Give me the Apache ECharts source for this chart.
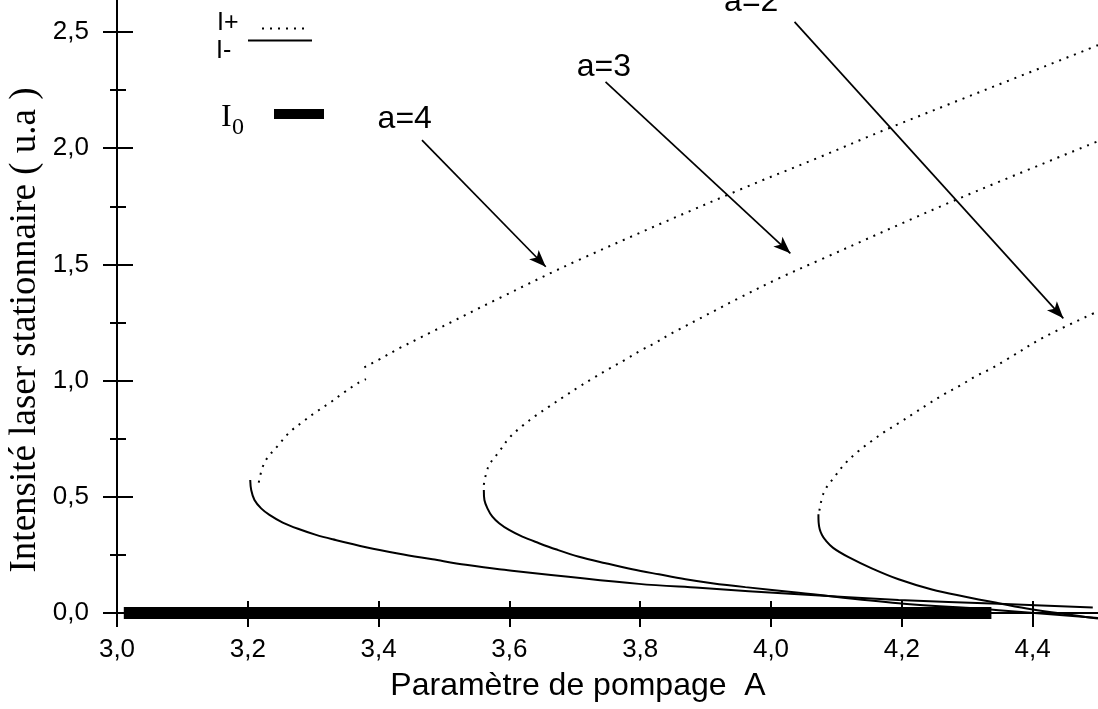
<!DOCTYPE html>
<html>
<head>
<meta charset="utf-8">
<script src="https://cdn.jsdelivr.net/npm/echarts@6/dist/echarts.min.js"></script>
<style>
  html, body { margin: 0; padding: 0; background: #fff; }
  #chart { width: 1098px; height: 709px; }
</style>
</head>
<body>
<div id="chart"></div>
<script>
// Axis ticks
const xMajorTicks = [3.0, 3.2, 3.4, 3.6, 3.8, 4.0, 4.2, 4.4];
const xMinorTicks = [3.1, 3.3, 3.5, 3.7, 3.9, 4.1, 4.3];
const yMajorTicks = [0, 0.5, 1.0, 1.5, 2.0, 2.5];
const yMinorTicks = [0.25, 0.75, 1.25, 1.75, 2.25];

// Upper branch I+ (dotted) for a = 4, 3, 2 ; '-' marks a break in the curve
const iPlusA4 = [[3.2168, 0.561], [3.2255, 0.647], [3.2469, 0.723], [3.2647, 0.780], [3.2824, 0.819],
  [3.3029, 0.862], [3.3258, 0.905], [3.3466, 0.948], [3.3679, 0.988], [3.3807, 1.006], [3.3795, '-'],
  [3.3782, 1.057], [3.4087, 1.103], [3.4316, 1.139], [3.4647, 1.186], [3.4774, 1.204], [3.584, 1.354],
  [3.706, 1.519], [3.951, 1.820], [4.073, 1.960], [4.180, 2.086], [4.482, 2.423], [4.5, 2.444]];
const iPlusA3 = [[3.5609, 0.551], [3.5679, 0.630], [3.5843, 0.694], [3.6006, 0.756], [3.6198, 0.805],
  [3.6403, 0.849], [3.6606, 0.888], [3.6835, 0.931], [3.7053, 0.971], [3.7278, 1.010], [3.7511, 1.049],
  [3.7766, 1.089], [3.8006, 1.129], [3.8235, 1.163], [3.8464, 1.201], [3.858, 1.218], [3.951, 1.355],
  [4.012, 1.440], [4.073, 1.517], [4.282, 1.777], [4.5, 2.030]];
const iPlusA2 = [[4.074, 0.44], [4.081, 0.52], [4.097, 0.585], [4.114, 0.645], [4.133, 0.695],
  [4.154, 0.74], [4.174, 0.78], [4.197, 0.82], [4.219, 0.86], [4.241, 0.90], [4.264, 0.94],
  [4.29, 0.98], [4.314, 1.02], [4.337, 1.052], [4.36, 1.09], [4.419, 1.189], [4.5, 1.298]];

// Lower branch I- (solid)
const iMinusA4 = [[3.2037, 0.572], [3.2052, 0.529], [3.2102, 0.486], [3.2204, 0.450], [3.2331, 0.422],
  [3.2534, 0.389], [3.2789, 0.360], [3.3043, 0.336], [3.3298, 0.317], [3.3807, 0.283], [3.4316, 0.255],
  [3.4824, 0.231], [3.5334, 0.207], [3.5843, 0.188], [3.798, 0.125], [3.890, 0.108], [4.042, 0.080],
  [4.195, 0.056], [4.348, 0.039], [4.492, 0.023]];
const iMinusA3 = [[3.5609, 0.529], [3.5618, 0.486], [3.5664, 0.450], [3.5740, 0.414], [3.5843, 0.386],
  [3.5995, 0.357], [3.6198, 0.328], [3.6453, 0.300], [3.6708, 0.274], [3.7064, 0.242], [3.7472, 0.214],
  [3.7878, 0.188], [3.8286, 0.166], [3.8693, 0.145], [3.9099, 0.128], [3.9609, 0.111], [4.0423, 0.087],
  [4.195, 0.042], [4.348, 0.012], [4.5, -0.022]];
const iMinusA2 = [[4.0725, 0.425], [4.0728, 0.39], [4.0745, 0.36], [4.078, 0.335], [4.083, 0.314],
  [4.095, 0.28], [4.1186, 0.240], [4.154, 0.192], [4.195, 0.145], [4.246, 0.101], [4.297, 0.070],
  [4.348, 0.042], [4.398, 0.016], [4.5, -0.024]];

// I0 = 0 solution
const iZero = [[3.0104, 0], [4.337, 0]];

// Curve annotations: label position and arrow (from, to)
const annotations = [
  { text: 'a=4', pos: [3.440, 2.126], from: [3.4663, 2.035], to: [3.6556, 1.490] },
  { text: 'a=3', pos: [3.7446, 2.349], from: [3.747, 2.286], to: [4.0296, 1.548] },
  { text: 'a=2', pos: [3.9698, 2.628], from: [4.036, 2.544], to: [4.447, 1.268] }
];

const SANS = 'Liberation Sans';
const comma = v => v.toFixed(1).replace('.', ',');

const X_MIN = 3.0, X_MAX = 4.5, Y_MIN = -0.052, Y_MAX = 2.638;

function xAxisDef(opts) {
  return Object.assign({
    type: 'value', min: X_MIN, max: X_MAX, position: 'bottom',
    splitLine: { show: false },
    axisLine: { show: false, onZero: true, onZeroAxisIndex: 0 },
    axisLabel: { show: false },
    axisTick: { show: false }
  }, opts);
}
function yAxisDef(opts) {
  return Object.assign({
    type: 'value', min: Y_MIN, max: Y_MAX, position: 'left',
    splitLine: { show: false },
    axisLine: { show: false, onZero: false },
    axisLabel: { show: false },
    axisTick: { show: false }
  }, opts);
}
const tickStyle = { color: '#000', width: 2 };

const dotted = { color: '#000', width: 2, type: [2, 6] };
const solid = { color: '#000', width: 2, type: 'solid' };
function curve(name, data, style) {
  return {
    name, type: 'line', data, showSymbol: false, symbol: 'none',
    smooth: 0.35, lineStyle: style, clip: true, silent: true, animation: false, z: 3
  };
}

const chart = echarts.init(document.getElementById('chart'), null, { renderer: 'canvas' });

chart.setOption({
  animation: false,
  backgroundColor: '#fff',
  grid: { left: 117, right: 0, top: 0, bottom: 84, containLabel: false },
  xAxis: [
    xAxisDef({
      axisLine: { show: true, onZero: true, onZeroAxisIndex: 0, lineStyle: { color: '#000', width: 2 } },
      axisTick: { show: true, customValues: xMajorTicks, length: 14, inside: false, lineStyle: tickStyle },
      axisLabel: { show: true, customValues: xMajorTicks, formatter: comma, margin: 12,
        fontFamily: SANS, fontSize: 26, color: '#000' }
    }),
    xAxisDef({ axisTick: { show: true, customValues: xMajorTicks, length: 12, inside: true, lineStyle: tickStyle } }),
    xAxisDef({ axisTick: { show: true, customValues: xMinorTicks, length: 6, inside: false, lineStyle: tickStyle } }),
    xAxisDef({ axisTick: { show: true, customValues: xMinorTicks, length: 6, inside: true, lineStyle: tickStyle } })
  ],
  yAxis: [
    yAxisDef({
      axisLine: { show: true, onZero: false, lineStyle: { color: '#000', width: 2 } },
      axisTick: { show: true, customValues: yMajorTicks, length: 14, inside: false, lineStyle: tickStyle },
      axisLabel: { show: true, customValues: yMajorTicks, formatter: comma, margin: 28,
        fontFamily: SANS, fontSize: 26, color: '#000' }
    }),
    yAxisDef({ axisTick: { show: true, customValues: yMajorTicks, length: 16, inside: true, lineStyle: tickStyle } }),
    yAxisDef({ axisTick: { show: true, customValues: yMinorTicks, length: 7, inside: false, lineStyle: tickStyle } }),
    yAxisDef({ axisTick: { show: true, customValues: yMinorTicks, length: 9, inside: true, lineStyle: tickStyle } })
  ],
  series: [
    curve('I+ a=4', iPlusA4, dotted),
    curve('I+ a=3', iPlusA3, dotted),
    curve('I+ a=2', iPlusA2, dotted),
    curve('I- a=4', iMinusA4, solid),
    curve('I- a=3', iMinusA3, solid),
    curve('I- a=2', iMinusA2, solid),
    {
      name: 'I0', type: 'line', data: iZero, showSymbol: false, symbol: 'none',
      lineStyle: { color: '#000', width: 12, cap: 'butt' }, silent: true, z: 4
    },
    {
      name: 'labels', type: 'scatter', symbolSize: 0, silent: true, z: 5,
      itemStyle: { opacity: 1, color: '#000' },
      data: annotations.map(a => ({ name: a.text, value: a.pos })),
      label: {
        show: true, position: 'inside', formatter: '{b}', opacity: 1,
        fontFamily: SANS, fontSize: 32, color: '#000',
        textBorderWidth: 0, textShadowBlur: 0
      },
      markLine: {
        silent: true, animation: false,
        symbol: ['none', 'arrow'], symbolSize: [10, 17],
        label: { show: false },
        lineStyle: { color: '#000', width: 1.7, type: 'solid', opacity: 1 },
        itemStyle: { color: '#000', opacity: 1 },
        emphasis: { disabled: true },
        data: annotations.map(a => [{ coord: a.from }, { coord: a.to }])
      }
    }
  ],
  graphic: [
    // axis titles
    {
      type: 'text', x: 25, y: 330, rotation: Math.PI / 2, silent: true,
      style: { text: 'Intensité laser stationnaire ( u.a )', font: '37px "Liberation Serif"',
        fill: '#000', align: 'center', verticalAlign: 'middle' }
    },
    {
      type: 'text', x: 578, y: 686, silent: true,
      style: { text: 'Paramètre de pompage  A', font: '32px "Liberation Sans"',
        fill: '#000', align: 'center', verticalAlign: 'middle',
        textShadowColor: 'rgba(0,0,0,0.35)', textShadowOffsetX: 1, textShadowOffsetY: 1 }
    },
    // key
    { type: 'text', x: 217, y: 23, silent: true,
      style: { text: 'I+', font: '25px "Liberation Sans"', fill: '#000', align: 'left', verticalAlign: 'middle' } },
    { type: 'line', silent: true, shape: { x1: 262, y1: 28.5, x2: 307, y2: 28.5 },
      style: { stroke: '#000', lineWidth: 2, lineDash: [2, 6] } },
    { type: 'text', x: 216, y: 51, silent: true,
      style: { text: 'I-', font: '25px "Liberation Sans"', fill: '#000', align: 'left', verticalAlign: 'middle' } },
    { type: 'line', silent: true, shape: { x1: 248, y1: 40.5, x2: 312, y2: 40.5 },
      style: { stroke: '#000', lineWidth: 2 } },
    { type: 'text', x: 221, y: 118, silent: true,
      style: { text: 'I', font: '32px "Liberation Serif"', fill: '#000', align: 'left', verticalAlign: 'middle' } },
    { type: 'text', x: 232, y: 128, silent: true,
      style: { text: '0', font: '24px "Liberation Serif"', fill: '#000', align: 'left', verticalAlign: 'middle' } },
    { type: 'rect', silent: true, shape: { x: 274, y: 109, width: 50, height: 10 }, style: { fill: '#000' } }
  ]
});
</script>
</body>
</html>
